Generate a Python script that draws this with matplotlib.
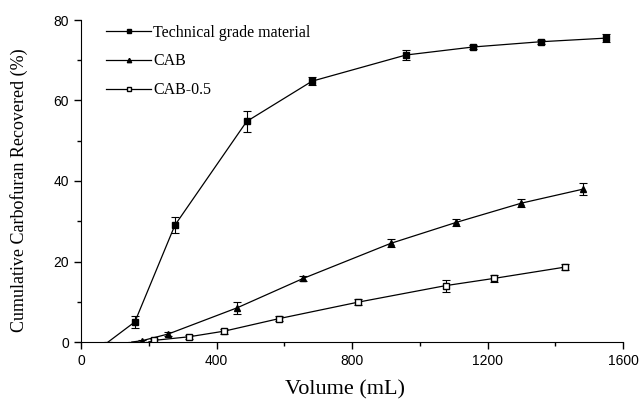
import matplotlib
matplotlib.use("Agg")
import matplotlib.pyplot as plt
from matplotlib.ticker import MultipleLocator

tech_x = [80, 159, 277, 489, 682, 959, 1158, 1357, 1550]
tech_y = [0, 5.0, 29.0, 54.8, 64.8, 71.3, 73.3, 74.6, 75.5]
tech_err = [0, 1.5, 2.0, 2.7, 1.0, 1.2, 0.5, 0.5, 1.0]

cab_x = [150, 179, 258, 461, 656, 914, 1107, 1300, 1483]
cab_y = [0, 0.3, 2.0, 8.5, 15.8, 24.5, 29.7, 34.5, 38.0]
cab_err = [0, 0.3, 0.5, 1.5, 0.6, 1.0, 0.8, 1.0, 1.5]

cab05_x = [200, 215, 319, 423, 584, 818, 1076, 1219, 1428]
cab05_y = [0, 0.4, 1.3, 2.7, 5.8, 9.9, 14.0, 15.8, 18.6]
cab05_err = [0, 0.3, 0.5, 0.6, 0.6, 0.8, 1.5, 0.8, 0.7]

serif = ["Liberation Serif", "DejaVu Serif"]
sans = ["Liberation Sans", "DejaVu Sans"]

fig = plt.figure(figsize=(6.43, 4.0), dpi=100)
ax = fig.add_axes([0.126, 0.145, 0.843, 0.805])

common = dict(color="black", lw=0.9, capsize=3, elinewidth=0.8, capthick=0.8, markersize=4.5)
ax.errorbar(tech_x, tech_y, yerr=tech_err, marker="s", mfc="black", mec="black",
            label="Technical grade material", markevery=list(range(1, len(tech_x))), **common)
ax.errorbar(cab_x, cab_y, yerr=cab_err, marker="^", mfc="black", mec="black",
            label="CAB", markevery=list(range(1, len(cab_x))), **common)
ax.errorbar(cab05_x, cab05_y, yerr=cab05_err, marker="s", mfc="white", mec="black",
            label="CAB-0.5", markevery=list(range(1, len(cab05_x))), **common)

ax.set_xlim(0, 1600)
ax.set_ylim(0, 80)
ax.xaxis.set_major_locator(MultipleLocator(400))
ax.xaxis.set_minor_locator(MultipleLocator(200))
ax.yaxis.set_major_locator(MultipleLocator(20))
ax.yaxis.set_minor_locator(MultipleLocator(10))
ax.spines["top"].set_visible(False)
ax.spines["right"].set_visible(False)
ax.tick_params(which="major", direction="out", length=5, width=1, labelsize=10)
ax.tick_params(which="minor", direction="out", length=3, width=1)
for lab in ax.get_xticklabels() + ax.get_yticklabels():
    lab.set_family(sans)

ax.set_xlabel("Volume (mL)", family=serif, fontsize=16)
ax.xaxis.set_label_coords(0.487, -0.118)
ax.set_ylabel("Cumulative Carbofuran Recovered (%)", family=serif, fontsize=13)
ax.yaxis.set_label_coords(-0.098, 0.47)

handles, labels = ax.get_legend_handles_labels()
handles = [h[0] for h in handles]
leg = ax.legend(handles, labels, loc="upper left", bbox_to_anchor=(0.02, 1.03), frameon=False,
                prop={"family": serif, "size": 11.5}, handlelength=2.8, labelspacing=0.8,
                markerscale=0.7, handletextpad=0.15)

fig.savefig("out.png", dpi=100)
